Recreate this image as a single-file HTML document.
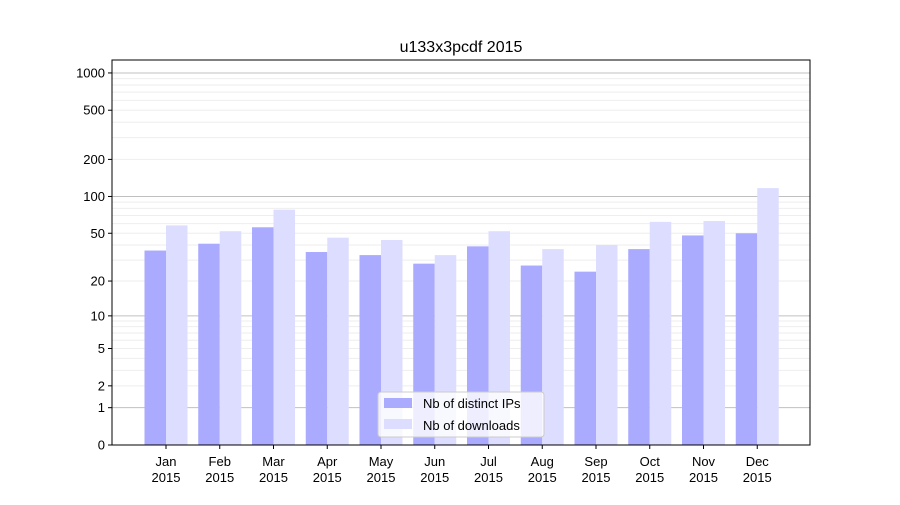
<!DOCTYPE html>
<html><head><meta charset="utf-8"><style>
body{margin:0;background:#fff;}
svg text{font-family:"Liberation Sans","DejaVu Sans",sans-serif;fill:#000;}
</style></head><body>
<svg id="chart" width="900" height="500" viewBox="0 0 900 500" xmlns="http://www.w3.org/2000/svg">
<rect width="900" height="500" fill="#fff"/>
<text x="461" y="52" text-anchor="middle" font-size="16">u133x3pcdf 2015</text>
<g id="grid"></g>
<g id="bars"></g>
<rect x="112" y="60" width="698" height="385" fill="none" stroke="#000" stroke-width="1"/>
<g id="yaxis"></g>
<g id="xaxis"></g>
<g>
<rect x="378" y="392" width="166" height="45" rx="3" fill="#fff" fill-opacity="0.8" stroke="#ccc"/>
<rect x="384" y="398" width="28" height="10" fill="#aaaaff"/>
<text x="423" y="408" font-size="13">Nb of distinct IPs</text>
<rect x="384" y="419" width="28" height="10" fill="#ddddff"/>
<text x="423" y="430" font-size="13">Nb of downloads</text>
</g>
</svg>
<script>
const categories=["Jan","Feb","Mar","Apr","May","Jun","Jul","Aug","Sep","Oct","Nov","Dec"];
const ipValues=[36,41,56,35,33,28,39,27,24,37,48,50];
const downloadValues=[58,52,78,46,44,33,52,37,40,62,63,117];
const yTickLabels=[0,1,2,5,10,20,50,100,200,500,1000];
const NS="http://www.w3.org/2000/svg";
const plotL=112,plotR=810,plotB=445,plotT=60;
function y(v){return plotB-124*Math.log10(1+v);}
const step=53.75,x0=166;
function xc(i){return x0+i*step;}
function mk(tag,attrs,parent){const e=document.createElementNS(NS,tag);for(const k in attrs)e.setAttribute(k,attrs[k]);parent.appendChild(e);return e;}
const grid=document.getElementById('grid');
const minor=[];
for(const d of [1,10,100]){for(let m=2;m<=9;m++)minor.push(m*d);}
minor.forEach(v=>{if(y(v)<plotT)return;
const l=mk('line',{x1:plotL,x2:plotR,y1:y(v),y2:y(v),stroke:'#eeeeee','stroke-width':1},grid);

});
[1,10,100,1000].forEach(v=>{
const l=mk('line',{x1:plotL,x2:plotR,y1:y(v),y2:y(v),stroke:'#c0c0c0','stroke-width':1},grid);

});
const bars=document.getElementById('bars');
categories.forEach((c,i)=>{
const b1=mk('rect',{x:xc(i)-21.5,y:y(ipValues[i]),width:21.5,height:plotB-y(ipValues[i]),fill:'#aaaaff'},bars);


const b2=mk('rect',{x:xc(i),y:y(downloadValues[i]),width:21.5,height:plotB-y(downloadValues[i]),fill:'#ddddff'},bars);


});
const ya=document.getElementById('yaxis');
yTickLabels.forEach(v=>{
const t=mk('line',{x1:plotL-4,x2:plotL,y1:y(v),y2:y(v),stroke:'#000'},ya);


const tx=mk('text',{x:plotL-7,y:y(v)+4.5,'text-anchor':'end','font-size':13},ya);
tx.textContent=v;

});
const xa=document.getElementById('xaxis');
categories.forEach((c,i)=>{
const t=mk('line',{x1:xc(i),x2:xc(i),y1:plotB,y2:plotB+4,stroke:'#000'},xa);


const tx=mk('text',{x:xc(i),y:466,'text-anchor':'middle','font-size':13},xa);
tx.textContent=c;


const ty=mk('text',{x:xc(i),y:482,'text-anchor':'middle','font-size':13},xa);
ty.textContent='2015';

});
</script>
</body></html>
